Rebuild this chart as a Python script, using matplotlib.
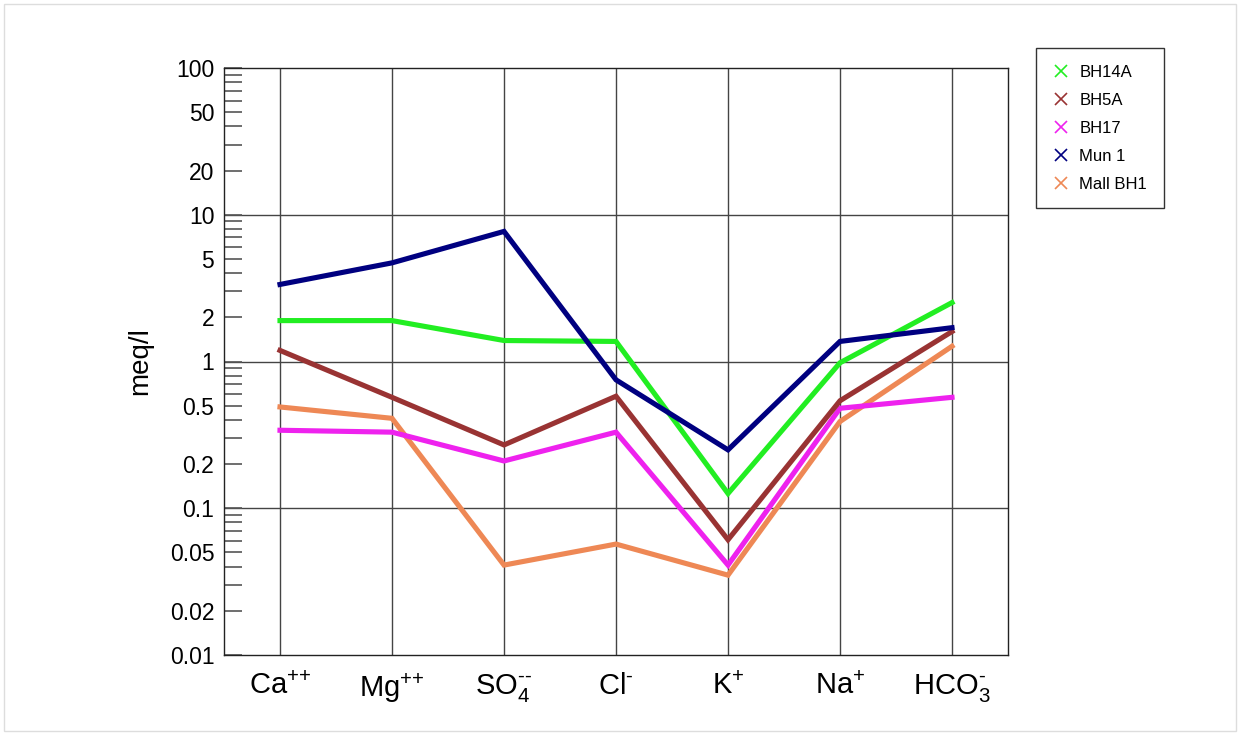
import matplotlib
matplotlib.use("Agg")
import matplotlib.pyplot as plt
from matplotlib.lines import Line2D
from matplotlib.patches import Rectangle
from matplotlib.ticker import FixedLocator, NullFormatter

plt.rcParams['font.family'] = ['Liberation Sans', 'DejaVu Sans']
plt.rcParams['mathtext.fontset'] = 'custom'
plt.rcParams['mathtext.rm'] = 'Liberation Sans'
plt.rcParams['mathtext.it'] = 'Liberation Sans'

ions = [r'Ca$^{\text{++}}$', r'Mg$^{\text{++}}$', r'SO$_4^{\text{--}}$', r'Cl$^{\text{-}}$',
        r'K$^{\text{+}}$', r'Na$^{\text{+}}$', r'HCO$_3^{\text{-}}$']

bh14a = [1.9, 1.9, 1.39, 1.37, 0.126, 0.98, 2.52]
bh5a = [1.19, 0.57, 0.27, 0.58, 0.061, 0.54, 1.6]
bh17 = [0.34, 0.33, 0.21, 0.33, 0.041, 0.48, 0.57]
mun1 = [3.35, 4.7, 7.7, 0.75, 0.25, 1.37, 1.7]
mallbh1 = [0.49, 0.41, 0.041, 0.057, 0.035, 0.39, 1.27]

series_names = ['BH14A', 'BH5A', 'BH17', 'Mun 1', 'Mall BH1']
series_vals = [bh14a, bh5a, bh17, mun1, mallbh1]
colors = ['#22ee22', '#993333', '#ee22ee', '#000080', '#ee8855']

major_ticks = [0.01, 0.02, 0.05, 0.1, 0.2, 0.5, 1, 2, 5, 10, 20, 50, 100]
major_labels = ['0.01', '0.02', '0.05', '0.1', '0.2', '0.5', '1', '2', '5', '10', '20', '50', '100']

fig = plt.figure(figsize=(12.4, 7.35), dpi=100)
ax = fig.add_axes([224/1240, 1-655/735, (1008-224)/1240, (655-68)/735])

x = list(range(len(ions)))
draw_order = [4, 2, 1, 0, 3]
for i in draw_order:
    ax.plot(x, series_vals[i], color=colors[i], lw=3.7, solid_joinstyle='miter', zorder=3)

ax.set_yscale('log')
ax.set_ylim(0.01, 100)
ax.set_xlim(-0.5, len(ions) - 0.5)

for xi in x:
    ax.axvline(xi, color='#444444', lw=1.0, zorder=1)
for yv in [0.1, 1, 10]:
    ax.axhline(yv, color='#444444', lw=1.0, zorder=1)

ax.set_xticks(x)
ax.set_xticklabels(ions, fontsize=21)
ax.tick_params(axis='x', length=0, pad=12)

ax.yaxis.set_major_locator(FixedLocator(major_ticks))
ax.set_yticklabels(major_labels)
minor = []
for d in [0.01, 0.1, 1, 10]:
    for m in range(2, 10):
        minor.append(d * m)
ax.yaxis.set_minor_locator(FixedLocator(minor))
ax.yaxis.set_minor_formatter(NullFormatter())
ax.tick_params(axis='y', which='both', direction='in', length=13, width=1.2,
               color='#555555', labelsize=16.5, pad=7)
ax.tick_params(axis='y', which='both', right=False)

for s in ax.spines.values():
    s.set_color('#222222')
    s.set_linewidth(1.0)

ax.set_ylabel('meq/l', fontsize=20, labelpad=12)

handles = [Line2D([], [], marker='x', linestyle='none', color=c, markersize=8, markeredgewidth=1.2)
           for c in colors]
leg = fig.legend(handles, series_names, loc='upper left',
                 bbox_to_anchor=(1036/1240, 1-48/735), fontsize=12,
                 frameon=True, fancybox=False, edgecolor='black',
                 handlelength=1.0, handletextpad=0.6, labelspacing=0.78,
                 borderpad=1.0, borderaxespad=0)
leg.get_frame().set_linewidth(1.0)

fig.patches.append(Rectangle((4/1240, 4/735), 1232/1240, 727/735, transform=fig.transFigure,
                             fill=False, edgecolor='#dddddd', lw=1.0))

fig.savefig('out.png', dpi=100)
